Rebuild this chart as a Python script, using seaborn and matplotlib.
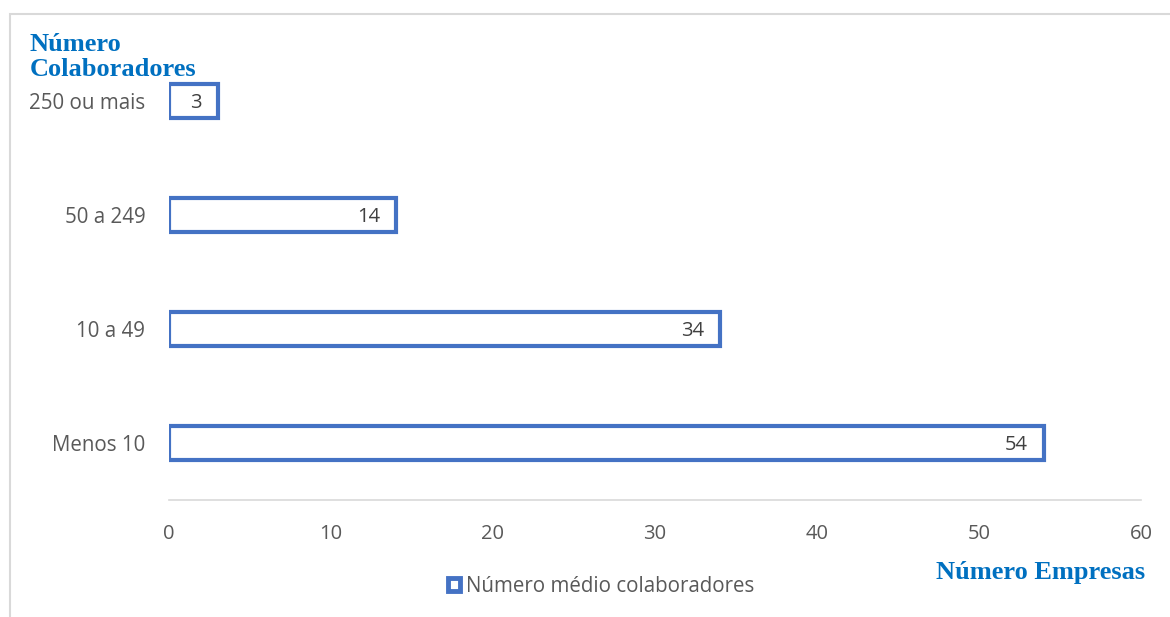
import matplotlib
matplotlib.use("Agg")
import matplotlib.pyplot as plt
import seaborn as sns
import pandas as pd
from matplotlib.patches import Rectangle, Patch

categories = ["250 ou mais", "50 a 249", "10 a 49", "Menos 10"]
values = [3, 14, 34, 54]
xticks = [0, 10, 20, 30, 40, 50, 60]

sns.set_theme(style="white")
plt.rcParams['font.family'] = ['Open Sans', 'DejaVu Sans']

df = pd.DataFrame({"cat": categories, "val": values})

fig = plt.figure(figsize=(11.7, 6.17), dpi=100)
ax = fig.add_axes([169/1170, 1 - 500/617, (1141 - 169)/1170, (500 - 44)/617])

sns.barplot(data=df, x="val", y="cat", order=categories, orient="h", ax=ax,
            color="white", edgecolor="#4472C4", linewidth=3.0, width=0.30,
            saturation=1)

ax.set_xlim(0, 60)
ax.set_ylim(3.5, -0.5)
ax.set_xticks(xticks)
ax.set_xticklabels([str(t) for t in xticks])
ax.set_xlabel("")
ax.set_ylabel("")
for s in ["top", "right", "left"]:
    ax.spines[s].set_visible(False)
ax.spines["bottom"].set_color("#D9D9D9")
ax.spines["bottom"].set_linewidth(1.2)
ax.tick_params(axis="x", length=0, pad=17, labelsize=14.5, labelcolor="#595959")
ax.tick_params(axis="y", length=0, pad=17, labelsize=14.8, labelcolor="#595959")
ax.grid(False)

for i, v in enumerate(values):
    ax.annotate(str(v), xy=(v, i), xytext=(-16, -2), textcoords="offset pixels",
                ha="right", va="center", fontsize=14.5, color="#404040")

fig.text(30/1170, 1 - 57/617, "Número\nColaboradores", family="Liberation Serif",
         fontweight="bold", fontsize=19, color="#0070C0", ha="left", va="center",
         linespacing=1.1)
fig.text(1145/1170, 1 - 573/617, "Número Empresas", family="Liberation Serif",
         fontweight="bold", fontsize=19, color="#0070C0", ha="right", va="center")

handle = Patch(facecolor="white", edgecolor="#4472C4", linewidth=3.5)
leg = fig.legend(handles=[handle], labels=["Número médio colaboradores"],
                 loc="center", bbox_to_anchor=(601/1170, 1 - 586/617), frameon=False,
                 fontsize=14.8, handlelength=0.6, handleheight=0.6, handletextpad=0.25,
                 labelcolor="#595959")

fig.patches.append(Rectangle((10/1170, -0.1), 1.2, 1 - 14/617 + 0.1,
                             transform=fig.transFigure, fill=False,
                             edgecolor="#D9D9D9", linewidth=1.5, zorder=0))

fig.savefig("out.png", dpi=100)
